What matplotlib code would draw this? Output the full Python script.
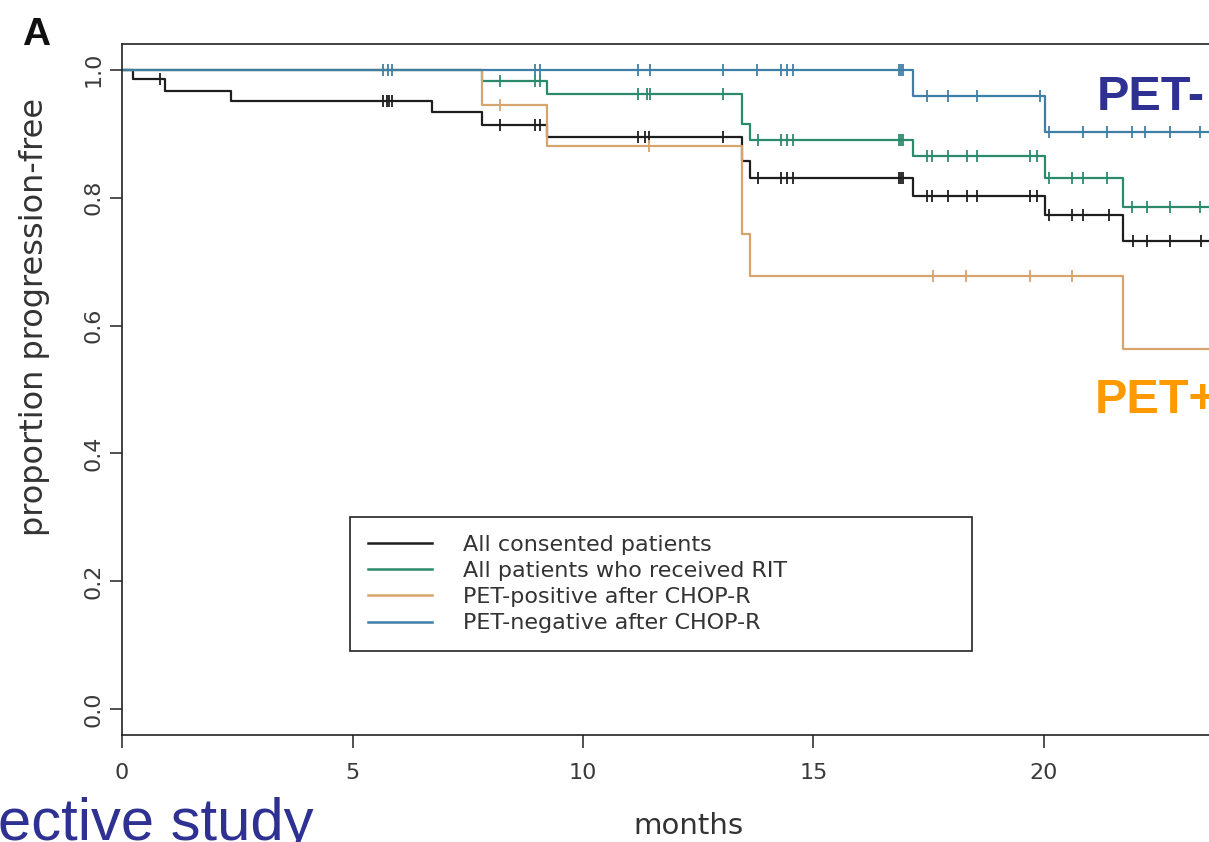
import numpy as np
import matplotlib.pyplot as plt

# step times (months) and proportion progression-free after each step
all_times = [0, 0.24, 0.93, 2.36, 6.72, 7.80, 9.22, 13.45, 13.62, 17.16, 20.02, 21.71, 25]
all_surv = [1.0, 0.986, 0.967, 0.951, 0.933, 0.914, 0.895, 0.857, 0.830, 0.803, 0.773, 0.732, 0.732]
all_cens = [0.82, 5.66, 5.75, 5.8, 5.86, 8.2, 8.96, 9.07, 11.2, 11.35, 11.43, 13.04, 13.8, 14.3,
            14.43, 14.56, 16.85, 16.9, 16.95, 17.46, 17.57, 17.92, 18.33, 18.55, 19.7, 19.84,
            20.1, 20.6, 20.85, 21.4, 21.93, 22.23, 22.73, 23.4]

rit_times = [0, 7.80, 9.22, 13.45, 13.62, 17.16, 20.02, 21.71, 25]
rit_surv = [1.0, 0.982, 0.962, 0.915, 0.890, 0.865, 0.831, 0.786, 0.786]
rit_cens = [8.2, 8.96, 9.07, 11.2, 11.38, 11.45, 13.04, 13.8, 14.3, 14.43, 14.56, 16.85, 16.9,
            16.95, 17.46, 17.57, 17.92, 18.33, 18.55, 19.7, 19.84, 20.1, 20.6, 20.85, 21.37,
            21.9, 22.23, 22.73, 23.38]

pos_times = [0, 7.80, 9.22, 13.45, 13.62, 21.71, 25]
pos_surv = [1.0, 0.944, 0.880, 0.743, 0.678, 0.563, 0.563]
pos_cens = [8.2, 11.43, 17.6, 18.3, 19.7, 20.6]

neg_times = [0, 17.16, 20.02, 25]
neg_surv = [1.0, 0.958, 0.903, 0.903]
neg_cens = [5.66, 5.77, 5.86, 8.96, 9.07, 11.2, 11.45, 13.04, 13.78, 14.3, 14.43, 14.56, 16.85,
            16.9, 16.95, 17.46, 17.92, 18.55, 19.91, 20.1, 20.85, 21.37, 21.9, 22.2, 22.73, 23.38]

labels = ["All consented patients", "All patients who received RIT",
          "PET-positive after CHOP-R", "PET-negative after CHOP-R"]
colors = ["#1e1e1e", "#2c8a6c", "#d6a46e", "#3f7fa6"]

curves = [(all_times, all_surv, all_cens), (rit_times, rit_surv, rit_cens),
          (pos_times, pos_surv, pos_cens), (neg_times, neg_surv, neg_cens)]

fig = plt.figure(figsize=(12.09, 8.42), dpi=100)
W, H = 1209, 842
ax = fig.add_axes([122 / W, 1 - 735 / H, 1152.5 / W, (735 - 44) / H])

for (t, s, c), col, lab in zip(curves, colors, labels):
    ax.step(t, s, where='post', color=col, lw=1.6, label=lab)
    t = np.array(t)
    s = np.array(s)
    idx = np.searchsorted(t, c, side='right') - 1
    ax.plot(c, s[idx], ls='none', marker='|', ms=9, mew=1.3, color=col)

ax.set_xlim(0, 25)
ax.set_ylim(-0.04, 1.04)
ax.set_xticks([0, 5, 10, 15, 20])
ax.set_yticks([0.0, 0.2, 0.4, 0.6, 0.8, 1.0])
ax.set_yticklabels(["0.0", "0.2", "0.4", "0.6", "0.8", "1.0"], rotation=90, va='center')
ax.tick_params(axis='both', direction='out', length=9, width=1.1, color='#222222',
               labelsize=16, labelcolor='#3a3a3a')
ax.tick_params(axis='x', pad=11)
ax.tick_params(axis='y', pad=4)
for sp in ax.spines.values():
    sp.set_linewidth(1.2)
    sp.set_color('#222222')

leg = ax.legend(loc='upper left', bbox_to_anchor=(350 / W, 1 - 656 / H, 622 / W, 139 / H),
                bbox_transform=fig.transFigure, mode='expand', borderaxespad=0,
                fontsize=16, labelspacing=0.28, borderpad=0.8, handlelength=2.9,
                handletextpad=1.4, frameon=True, fancybox=False, framealpha=1,
                edgecolor='#222222', labelcolor='#333333')
leg.get_frame().set_linewidth(1.2)
for line in leg.get_lines():
    line.set_linewidth(1.8)

fig.text(35 / W, 1 - 317 / H, "proportion progression-free", rotation=90,
         ha='center', va='center', fontsize=23, color='#333333')
fig.text(688 / W, 1 - 826 / H, "months", ha='center', va='center', fontsize=21, color='#333333')

fig.text(22 / W, 1 - 45 / H, "A", fontsize=28, fontweight='bold', family='Liberation Sans',
         color='#111111', ha='left', va='baseline')
fig.text(1097 / W, 1 - 110 / H, "PET-", fontsize=35, fontweight='bold', family='Liberation Sans',
         color='#2e3192', ha='left', va='baseline')
fig.text(1095 / W, 1 - 413 / H, "PET+", fontsize=35, fontweight='bold', family='Liberation Sans',
         color='#ff9900', ha='left', va='baseline')
fig.text(-2 / W, 1 - 840 / H, "ective study", fontsize=43, family='Liberation Sans',
         color='#2e3192', ha='left', va='baseline')

fig.savefig("out.png", dpi=100)
